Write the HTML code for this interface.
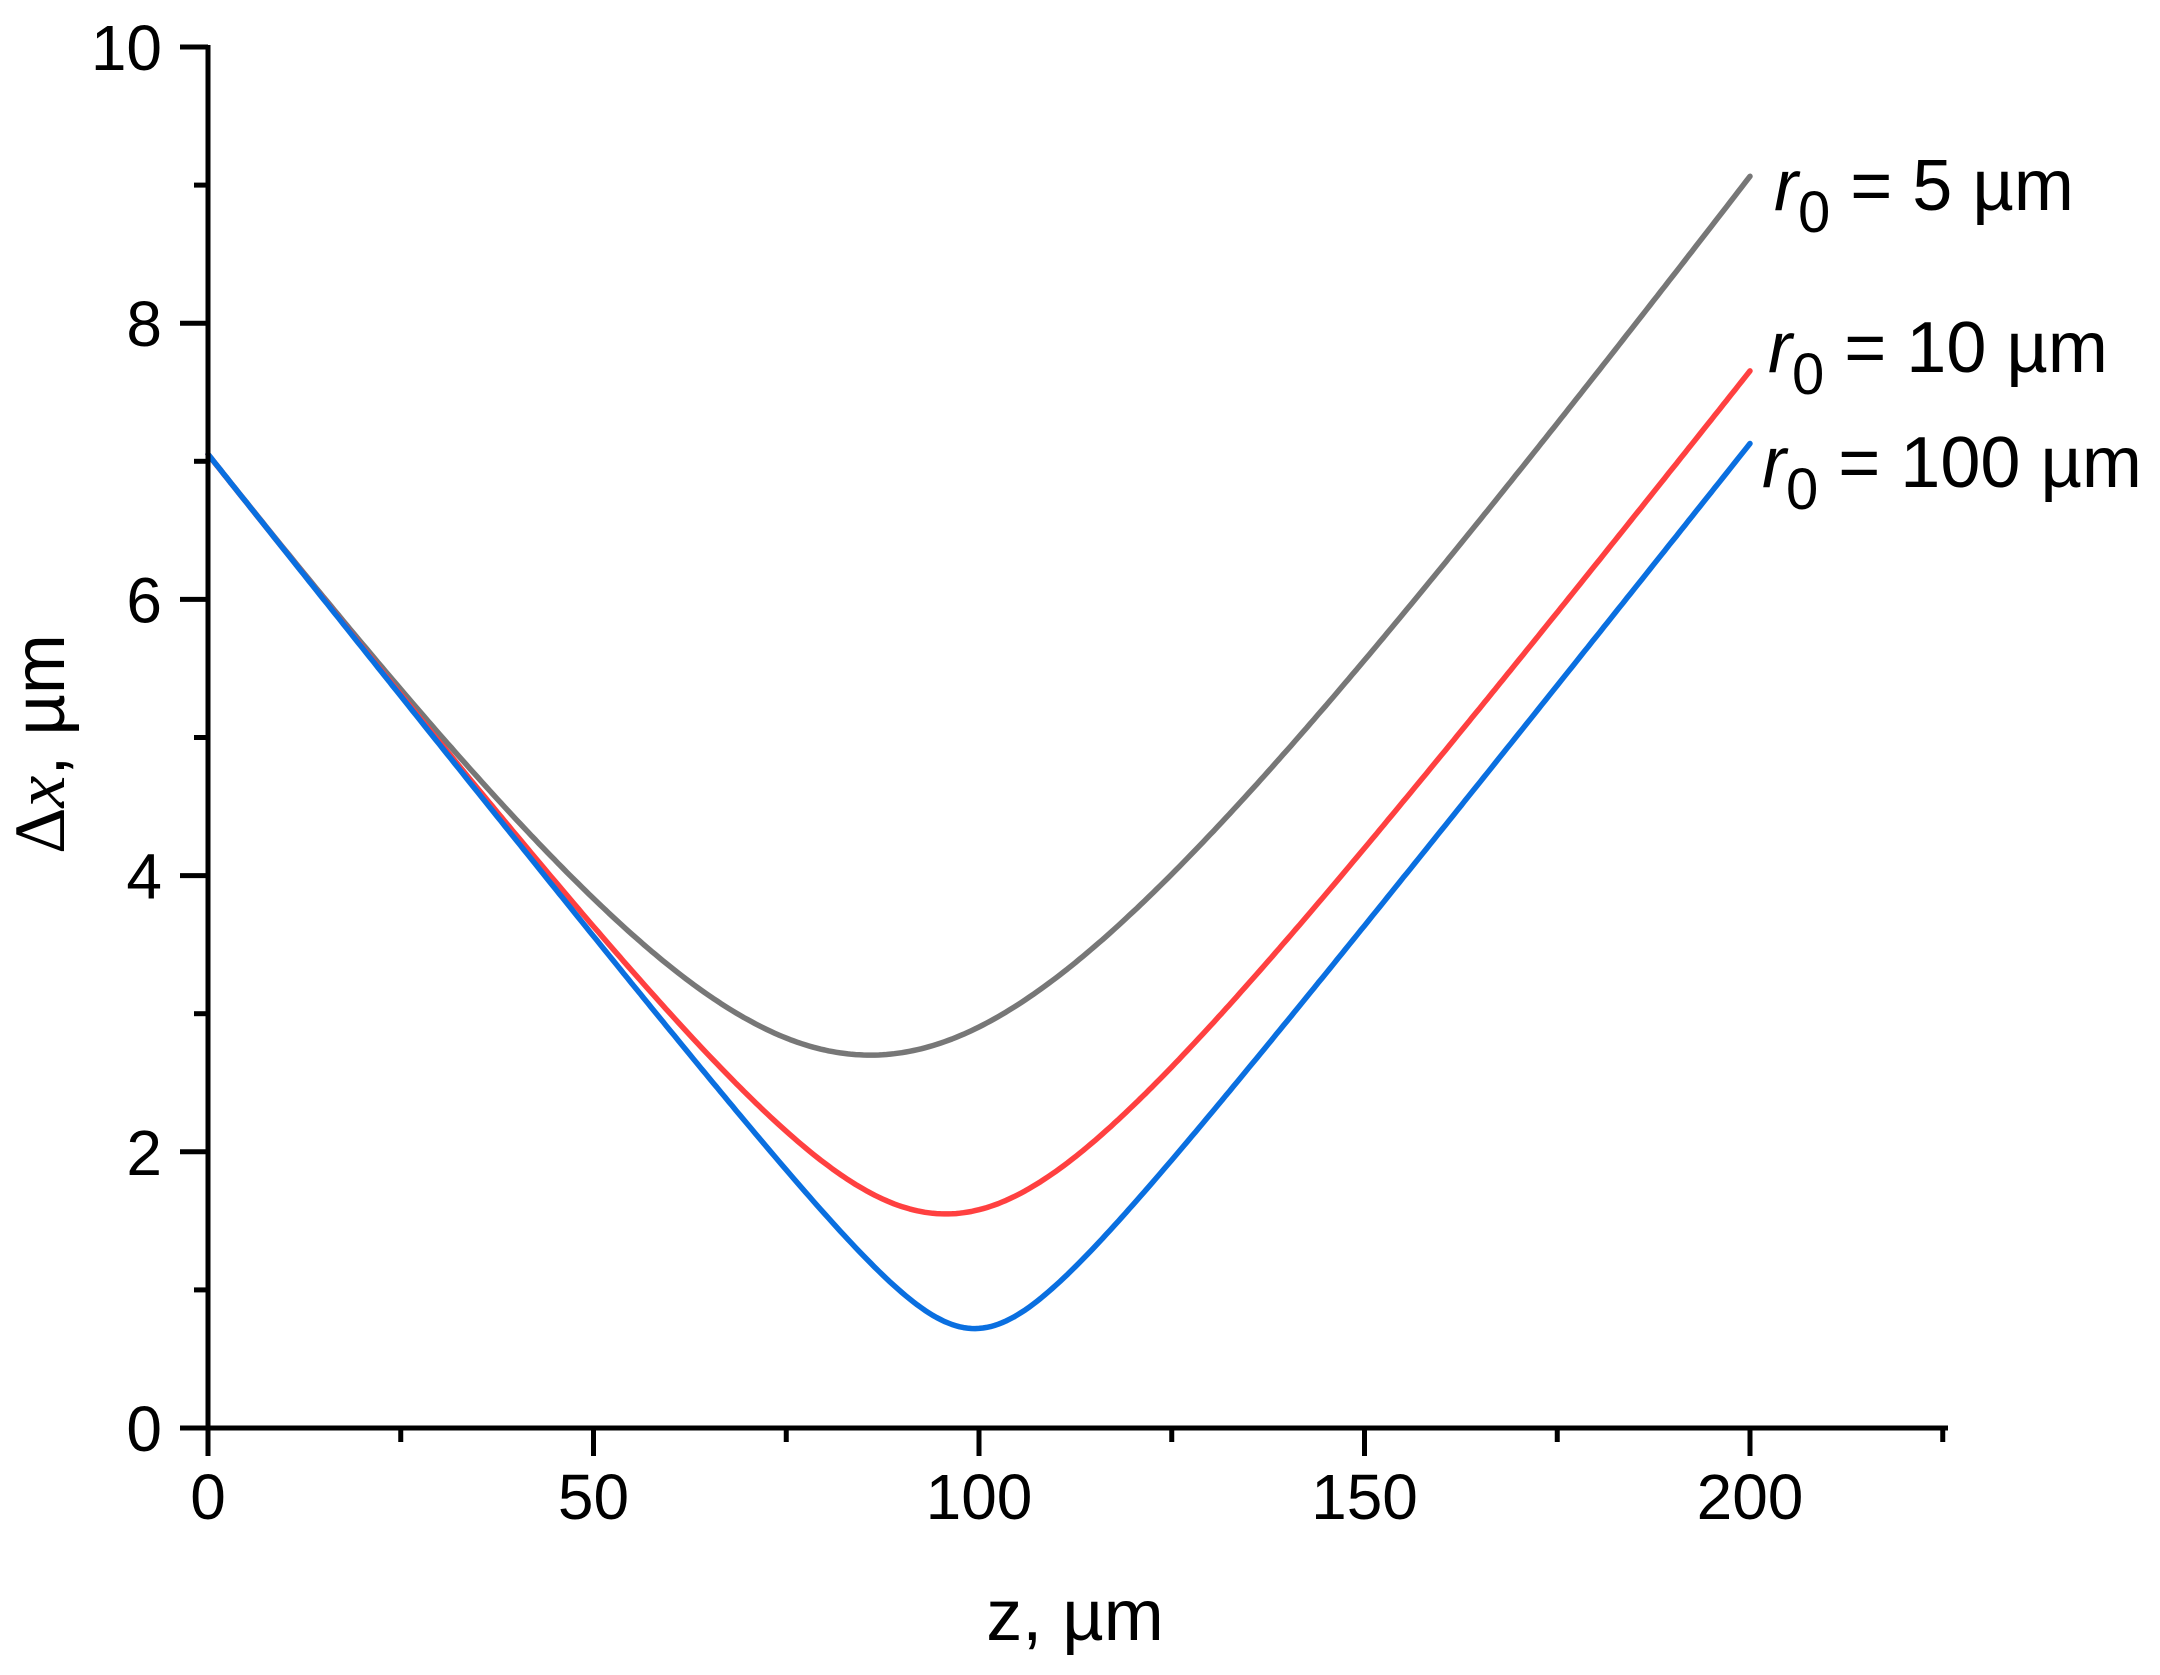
<!DOCTYPE html>
<html><head><meta charset="utf-8"><style>
html,body{margin:0;padding:0;background:#fff;}
svg{display:block;font-family:"Liberation Sans",Arial,sans-serif;}
</style></head><body>
<svg id="s" width="2160" height="1675" viewBox="0 0 2160 1675" xmlns="http://www.w3.org/2000/svg">
<g id="curves" fill="none" stroke-width="5.5" stroke-linejoin="round" stroke-linecap="round"></g>
<g stroke="#000" stroke-width="5" fill="none" id="axes">
<line x1="208" y1="45" x2="208" y2="1430"/>
<line x1="180" y1="1428" x2="1948" y2="1428"/>
</g>
<g font-size="64" text-anchor="end" id="ylab"></g>
<g font-size="64" text-anchor="middle" id="xlab"></g>
<text x="1075" y="1640" font-size="72" text-anchor="middle">z, µm</text>
<text transform="translate(64,744) rotate(-90)" font-size="72" text-anchor="middle"><tspan font-family="Liberation Serif,serif">Δ<tspan font-style="italic">x</tspan></tspan>, µm</text>
<g font-size="72">
<text x="1774" y="210"><tspan font-style="italic">r</tspan><tspan font-size="58" dy="22">0</tspan><tspan dy="-22"> = 5 µm</tspan></text>
<text x="1768" y="372"><tspan font-style="italic">r</tspan><tspan font-size="58" dy="22">0</tspan><tspan dy="-22"> = 10 µm</tspan></text>
<text x="1762" y="487"><tspan font-style="italic">r</tspan><tspan font-size="58" dy="22">0</tspan><tspan dy="-22"> = 100 µm</tspan></text>
</g>
</svg>
<script>
var X=function(z){return 208+z*7.71;},Y=function(v){return 1428-v*138.1;};
var ax=document.getElementById('axes'),ns='http://www.w3.org/2000/svg';
function ln(p,a,b,c,d){var l=document.createElementNS(ns,'line');l.setAttribute('x1',a);l.setAttribute('y1',b);l.setAttribute('x2',c);l.setAttribute('y2',d);p.appendChild(l);}
function tx(p,x,y,t){var e=document.createElementNS(ns,'text');e.setAttribute('x',x);e.setAttribute('y',y);e.textContent=t;p.appendChild(e);}
for(var v=0;v<=10;v++){var y=Y(v);ln(ax,v%2?194:180,y,208,y);if(v%2==0)tx(document.getElementById('ylab'),162,y+23,String(v));}
for(var z=0;z<=225;z+=25){var x=X(z);ln(ax,x,1428,x,z%50?1442:1456);if(z%50==0&&z<=200)tx(document.getElementById('xlab'),x,1519,String(z));}
var cs=[[0.00575,85.9,2.7,'#777777'],[0.005165,95.7,1.55,'#ff4040'],[0.004975,99.45,0.72,'#0a6fe0']];
var g=document.getElementById('curves');
cs.forEach(function(c){var d='';for(var z=0;z<=200;z+=0.5){var v=Math.sqrt(c[0]*(z-c[1])*(z-c[1])+c[2]*c[2]);d+=(z?'L':'M')+X(z).toFixed(1)+' '+Y(v).toFixed(1);}
var p=document.createElementNS(ns,'path');p.setAttribute('d',d);p.setAttribute('stroke',c[3]);g.appendChild(p);});
</script>
</body></html>
